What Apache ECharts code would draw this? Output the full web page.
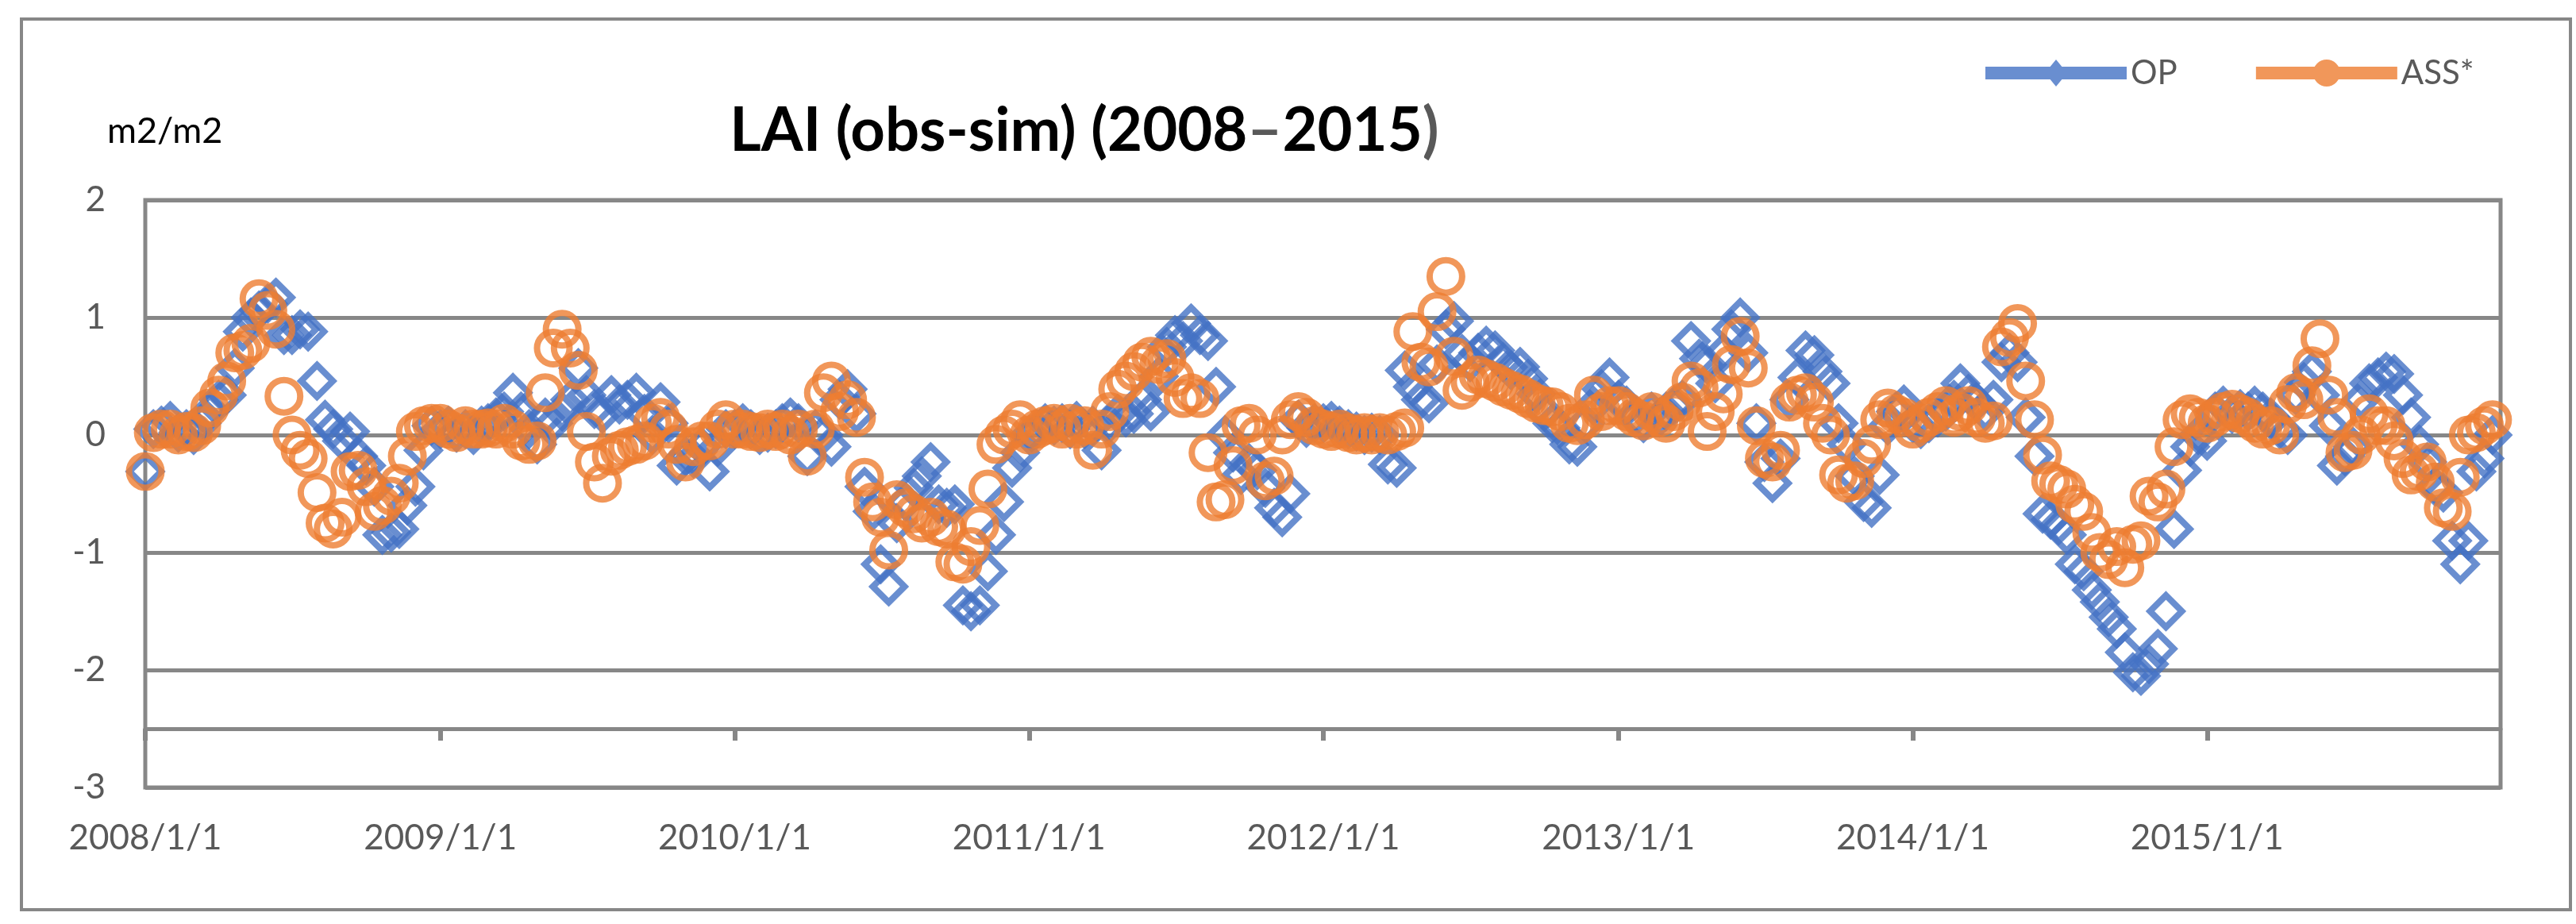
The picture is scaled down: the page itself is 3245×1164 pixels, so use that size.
<!DOCTYPE html>
<html>
<head>
<meta charset="utf-8">
<script src="https://cdn.jsdelivr.net/npm/echarts@6/dist/echarts.min.js"></script>
<style>
html,body{margin:0;padding:0;background:#ffffff;}
#chart{width:3245px;height:1164px;}
</style>
</head>
<body>
<div id="chart"></div>
<script>
// ---- categories (observation dates: dekads of each month) ----
const YEARS = [2008, 2009, 2010, 2011, 2012, 2013, 2014, 2015];
const DEKAD_DAYS = [1, 11, 21];
const SERIES_NAMES = ['OP', 'ASS*'];
const Y_TICKS = [2, 1, 0, -1, -2, -3];
const TITLE_TEXT = ['LAI (obs-sim) (2008', '–', '2015', ')'];
const UNIT_TEXT = 'm2/m2';

// ---- series values (obs - sim LAI, m2/m2), one value per dekad ----
const OP_2008 = [-0.31, 0.05, 0.08, 0.12, 0.02, 0.05, 0.00, 0.10, 0.20, 0.30, 0.34, 0.57, 0.88, 1.00, 1.06, 1.12, 1.17, 0.85, 0.85, 0.90, 0.88, 0.46, 0.13, 0.05, -0.05, 0.03, -0.18, -0.26, -0.44, -0.85, -0.83, -0.80, -0.60, -0.44, -0.13, 0.08];
const OP_2009 = [0.05, 0.08, 0.02, 0.05, 0.00, 0.08, 0.10, 0.15, 0.20, 0.36, 0.20, 0.05, -0.08, 0.15, 0.10, 0.20, 0.30, 0.57, 0.34, 0.22, 0.18, 0.34, 0.26, 0.30, 0.36, 0.18, 0.00, 0.28, 0.10, -0.26, -0.18, -0.20, -0.10, -0.31, -0.10, 0.05];
const OP_2010 = [0.05, 0.10, 0.05, 0.00, 0.02, 0.05, 0.10, 0.15, 0.10, -0.18, 0.05, 0.00, -0.10, 0.30, 0.39, 0.18, -0.44, -0.65, -1.10, -1.29, -0.75, -0.57, -0.45, -0.35, -0.23, -0.59, -0.62, -0.59, -1.45, -1.50, -1.45, -1.16, -0.85, -0.57, -0.28, -0.15];
const OP_2011 = [0.00, 0.05, 0.10, 0.08, 0.10, 0.05, 0.12, 0.05, 0.08, -0.13, 0.10, 0.18, 0.15, 0.18, 0.30, 0.20, 0.50, 0.75, 0.85, 0.80, 0.95, 0.85, 0.80, 0.41, 0.00, -0.15, -0.34, -0.24, -0.30, -0.45, -0.62, -0.70, -0.50, 0.13, 0.06, 0.10];
const OP_2012 = [0.10, 0.12, 0.08, 0.05, 0.03, 0.00, 0.02, 0.00, -0.25, -0.28, 0.55, 0.41, 0.30, 0.27, 0.60, 0.90, 0.97, 0.69, 0.62, 0.70, 0.76, 0.72, 0.62, 0.55, 0.58, 0.48, 0.35, 0.20, 0.10, 0.06, -0.08, -0.10, 0.10, 0.25, 0.39, 0.49];
const OP_2013 = [0.30, 0.25, 0.15, 0.10, 0.20, 0.15, 0.20, 0.25, 0.30, 0.80, 0.65, 0.60, 0.44, 0.70, 0.90, 1.00, 0.70, 0.10, -0.23, -0.41, -0.20, 0.30, 0.49, 0.72, 0.68, 0.54, 0.44, 0.10, -0.08, -0.35, -0.57, -0.62, -0.34, 0.08, 0.20, 0.26];
const OP_2014 = [0.10, 0.05, 0.10, 0.15, 0.20, 0.30, 0.44, 0.35, 0.28, 0.20, 0.30, 0.62, 0.70, 0.62, 0.15, -0.18, -0.67, -0.72, -0.77, -0.85, -1.10, -1.16, -1.32, -1.42, -1.55, -1.65, -1.85, -2.02, -2.05, -1.95, -1.82, -1.50, -0.80, -0.30, -0.10, 0.00];
const OP_2015 = [-0.05, 0.20, 0.25, 0.18, 0.22, 0.20, 0.25, 0.20, 0.15, 0.05, 0.00, 0.34, 0.45, 0.54, 0.34, 0.08, -0.26, -0.18, -0.10, 0.30, 0.44, 0.49, 0.54, 0.52, 0.34, 0.15, -0.08, -0.23, -0.44, -0.49, -0.90, -1.10, -0.90, -0.31, -0.20, 0.00];

const ASS_2008 = [-0.31, 0.02, 0.05, 0.05, 0.00, 0.03, 0.02, 0.08, 0.23, 0.34, 0.46, 0.70, 0.72, 0.78, 1.16, 1.06, 0.90, 0.33, 0.00, -0.13, -0.20, -0.49, -0.75, -0.80, -0.70, -0.31, -0.30, -0.44, -0.65, -0.60, -0.52, -0.41, -0.18, 0.03, 0.08, 0.10];
const ASS_2009 = [0.10, 0.05, 0.02, 0.08, 0.05, 0.05, 0.06, 0.05, 0.10, 0.05, -0.05, -0.08, -0.05, 0.36, 0.74, 0.90, 0.74, 0.55, 0.03, -0.23, -0.41, -0.18, -0.13, -0.10, -0.08, -0.05, 0.10, 0.15, 0.05, -0.08, -0.23, -0.10, -0.05, -0.05, 0.05, 0.13];
const ASS_2010 = [0.05, 0.05, 0.03, 0.02, 0.05, 0.03, 0.05, 0.00, 0.05, -0.18, 0.05, 0.36, 0.46, 0.20, 0.30, 0.15, -0.36, -0.57, -0.70, -0.98, -0.55, -0.62, -0.67, -0.75, -0.70, -0.78, -0.80, -1.08, -1.10, -0.95, -0.77, -0.46, -0.08, 0.00, 0.05, 0.13];
const ASS_2011 = [0.00, 0.05, 0.08, 0.10, 0.05, 0.10, 0.05, 0.08, -0.13, 0.05, 0.20, 0.39, 0.46, 0.54, 0.62, 0.67, 0.60, 0.65, 0.49, 0.31, 0.36, 0.31, -0.15, -0.57, -0.55, -0.26, 0.08, 0.10, 0.00, -0.39, -0.35, 0.00, 0.13, 0.20, 0.15, 0.08];
const ASS_2012 = [0.05, 0.03, 0.05, 0.02, 0.00, 0.02, 0.00, 0.02, 0.00, 0.03, 0.06, 0.88, 0.62, 0.58, 1.05, 1.35, 0.67, 0.38, 0.45, 0.51, 0.48, 0.45, 0.41, 0.38, 0.35, 0.31, 0.27, 0.25, 0.24, 0.20, 0.10, 0.08, 0.13, 0.34, 0.20, 0.25];
const ASS_2013 = [0.25, 0.20, 0.15, 0.12, 0.20, 0.15, 0.10, 0.20, 0.28, 0.46, 0.40, 0.03, 0.20, 0.35, 0.60, 0.84, 0.57, 0.08, -0.20, -0.23, -0.13, 0.28, 0.34, 0.36, 0.28, 0.10, 0.00, -0.34, -0.41, -0.39, -0.20, -0.08, 0.13, 0.23, 0.18, 0.15];
const ASS_2014 = [0.05, 0.10, 0.15, 0.20, 0.25, 0.15, 0.20, 0.25, 0.15, 0.10, 0.12, 0.75, 0.83, 0.95, 0.46, 0.13, -0.17, -0.39, -0.42, -0.46, -0.59, -0.65, -0.83, -1.00, -1.06, -0.95, -1.13, -0.93, -0.90, -0.52, -0.57, -0.46, -0.10, 0.13, 0.18, 0.15];
const ASS_2015 = [0.10, 0.15, 0.20, 0.22, 0.18, 0.15, 0.10, 0.05, 0.08, 0.00, 0.26, 0.36, 0.30, 0.59, 0.82, 0.34, 0.15, -0.15, -0.13, 0.00, 0.18, 0.08, 0.08, -0.05, -0.20, -0.34, -0.31, -0.23, -0.40, -0.62, -0.65, -0.36, 0.00, 0.02, 0.08, 0.13];

// ---- build option from the arrays ----
const OP_ALL = [].concat(OP_2008, OP_2009, OP_2010, OP_2011, OP_2012, OP_2013, OP_2014, OP_2015);
const ASS_ALL = [].concat(ASS_2008, ASS_2009, ASS_2010, ASS_2011, ASS_2012, ASS_2013, ASS_2014, ASS_2015);

const DATES = [];
YEARS.forEach(function (y) {
  for (let m = 0; m < 12; m++) {
    DEKAD_DAYS.forEach(function (d) { DATES.push(Date.UTC(y, m, d)); });
  }
});
const YEAR_TICKS = YEARS.map(function (y) { return Date.UTC(y, 0, 1); });
const X_MIN = Date.UTC(2008, 0, 1);
const X_MAX = Date.UTC(2015, 11, 31);

const opData = DATES.map(function (t, i) { return [t, OP_ALL[i]]; });
const assData = DATES.map(function (t, i) { return [t, ASS_ALL[i]]; });

function fmtDate(v) {
  const d = new Date(v);
  return d.getUTCFullYear() + '/' + (d.getUTCMonth() + 1) + '/' + d.getUTCDate();
}

const BLUE = '#4472C4';
const ORANGE = '#ED7D31';
const GRIDC = '#878787';
const LABELC = '#595959';
const FONT = 'Lato';

const GRID = { left: 183, right: 95, top: 252, bottom: 172 };
const GRID_H = 1164 - GRID.top - GRID.bottom;
const Y_MIN = -3, Y_MAX = 2, AXIS_CROSS = -2.5;

const chart = echarts.init(document.getElementById('chart'), null, { renderer: 'canvas', width: 3245, height: 1164 });

const option = {
  animation: false,
  backgroundColor: '#ffffff',
  graphic: [
    { type: 'rect', shape: { x: 27, y: 24, width: 3211, height: 1122 },
      style: { fill: 'none', stroke: GRIDC, lineWidth: 4 }, z: 0 },
    { type: 'text', x: 1366, y: 165, z: 10,
      style: {
        text: '{b|' + TITLE_TEXT[0] + '}{g|' + TITLE_TEXT[1] + '}{b|' + TITLE_TEXT[2] + '}{g|' + TITLE_TEXT[3] + '}',
        align: 'center', verticalAlign: 'middle',
        rich: {
          b: { fontSize: 76, fontWeight: 'bold', fontFamily: FONT, fill: '#000000' },
          g: { fontSize: 76, fontWeight: 'bold', fontFamily: FONT, fill: LABELC }
        }
      } },
    { type: 'text', x: 135, y: 165, z: 10,
      style: { text: UNIT_TEXT, fontSize: 45, fontFamily: FONT, fill: '#000000', align: 'left', verticalAlign: 'middle' } }
  ],
  legend: {
    left: 2496, top: 66,
    itemWidth: 178, itemHeight: 34, itemGap: 99,
    textStyle: { fontSize: 42, fontFamily: FONT, color: LABELC },
    selectedMode: false,
    data: [
      { name: SERIES_NAMES[0],
        icon: 'path://M0 9 L178 9 L178 25 L0 25 Z M89 0 L103 17 L89 34 L75 17 Z',
        itemStyle: { color: BLUE, borderWidth: 0 } },
      { name: SERIES_NAMES[1],
        icon: 'path://M0 9 L178 9 L178 25 L0 25 Z M72 17 A17 17 0 1 1 106 17 A17 17 0 1 1 72 17 Z',
        itemStyle: { color: ORANGE, borderWidth: 0 } }
    ]
  },
  grid: {
    left: GRID.left, right: GRID.right, top: GRID.top, bottom: GRID.bottom,
    show: true, borderColor: GRIDC, borderWidth: 5, backgroundColor: 'transparent'
  },
  xAxis: [
    {
      type: 'value', min: X_MIN, max: X_MAX, position: 'bottom',
      axisLine: { show: false }, axisTick: { show: false }, splitLine: { show: false },
      axisLabel: {
        customValues: YEAR_TICKS, formatter: fmtDate, margin: 42,
        fontSize: 44, lineHeight: 44, fontFamily: FONT, color: LABELC,
        showMinLabel: true, showMaxLabel: true, hideOverlap: false
      }
    },
    {
      type: 'value', min: X_MIN, max: X_MAX, position: 'bottom',
      offset: -GRID_H * (AXIS_CROSS - Y_MIN) / (Y_MAX - Y_MIN),
      axisLine: { show: true, lineStyle: { color: GRIDC, width: 5 } },
      axisTick: { show: true, customValues: YEAR_TICKS, length: 15, inside: false, lineStyle: { color: GRIDC, width: 6 } },
      axisLabel: { show: false }, splitLine: { show: false }
    }
  ],
  yAxis: {
    type: 'value', min: Y_MIN, max: Y_MAX, interval: 1,
    axisLine: { show: false }, axisTick: { show: false },
    splitLine: { show: true, lineStyle: { color: GRIDC, width: 5 } },
    axisLabel: { margin: 50, fontSize: 44, fontFamily: FONT, color: LABELC,
      formatter: function (v) { return Y_TICKS.indexOf(v) >= 0 ? String(v) : ''; } }
  },
  series: [
    {
      name: SERIES_NAMES[0], type: 'scatter', xAxisIndex: 0, data: opData,
      symbol: 'diamond', symbolSize: 40, clip: false,
      itemStyle: { color: 'rgba(255,255,255,0)', borderColor: BLUE, borderWidth: 8 },
      emphasis: { disabled: true }
    },
    {
      name: SERIES_NAMES[1], type: 'scatter', xAxisIndex: 0, data: assData,
      symbol: 'circle', symbolSize: 41, clip: false,
      itemStyle: { color: 'rgba(255,255,255,0)', borderColor: ORANGE, borderWidth: 8 },
      emphasis: { disabled: true }
    }
  ]
};
chart.setOption(option);
</script>
</body>
</html>
